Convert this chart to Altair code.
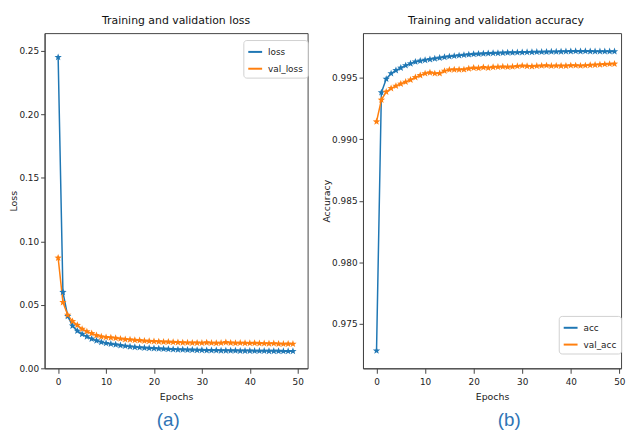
import math
import altair as alt
import pandas as pd

epochs = list(range(50))

loss = [0.245, 0.060, 0.041, 0.0335, 0.0295, 0.027, 0.025, 0.0232, 0.0218, 0.0207,
        0.0198, 0.0192, 0.0187, 0.0181, 0.0176, 0.0171, 0.0167, 0.0164, 0.0161, 0.0159,
        0.0157, 0.0155, 0.0153, 0.0151, 0.0150, 0.0148, 0.0147, 0.0146, 0.0145, 0.0144,
        0.0143, 0.0142, 0.0142, 0.0141, 0.0140, 0.0140, 0.0139, 0.0139, 0.0138, 0.0138,
        0.0138, 0.0137, 0.0137, 0.0137, 0.0136, 0.0136, 0.0136, 0.0135, 0.0135, 0.0135]

val_loss = [0.087, 0.052, 0.042, 0.037, 0.034, 0.031, 0.029, 0.0275, 0.026, 0.025,
            0.0245, 0.0242, 0.0238, 0.0233, 0.0228, 0.0226, 0.0222, 0.0220, 0.0216, 0.0214,
            0.0212, 0.0211, 0.0209, 0.0208, 0.0206, 0.0205, 0.0203, 0.0202, 0.0201, 0.0201,
            0.0200, 0.0203, 0.0200, 0.0199, 0.0200, 0.0204, 0.0201, 0.0199, 0.0200, 0.0199,
            0.0198, 0.0199, 0.0197, 0.0196, 0.0195, 0.0196, 0.0193, 0.0192, 0.0193, 0.0192]

acc = [0.9728, 0.9938, 0.9949, 0.99535, 0.9956, 0.9958, 0.9960, 0.99615, 0.9963, 0.99637,
       0.99644, 0.9965, 0.99656, 0.99662, 0.99668, 0.99673, 0.99677, 0.99681, 0.99685, 0.99689,
       0.99692, 0.99694, 0.99696, 0.99698, 0.99700, 0.99701, 0.99703, 0.99704, 0.99705, 0.99706,
       0.99707, 0.99708, 0.99709, 0.99710, 0.99710, 0.99711, 0.99712, 0.99712, 0.99713, 0.99714,
       0.99715, 0.99716, 0.99715, 0.99716, 0.99715, 0.99714, 0.99714, 0.99714, 0.99714, 0.99714]

val_acc = [0.99143, 0.9932, 0.99385, 0.99414, 0.99433, 0.9945, 0.99466, 0.99483, 0.99503, 0.9952,
           0.99535, 0.99542, 0.99535, 0.99536, 0.99555, 0.99565, 0.99566, 0.99566, 0.99567, 0.99575,
           0.9958, 0.99578, 0.99585, 0.9958, 0.99587, 0.99588, 0.9959, 0.99588, 0.9959, 0.99594,
           0.99598, 0.99595, 0.99593, 0.99596, 0.99598, 0.996, 0.99596, 0.99598, 0.99597, 0.99597,
           0.996, 0.996, 0.99598, 0.996, 0.99603, 0.99605, 0.99607, 0.9961, 0.99612, 0.99613]

loss_ticks = [0.00, 0.05, 0.10, 0.15, 0.20, 0.25]
acc_ticks = [0.975, 0.980, 0.985, 0.990, 0.995]
epoch_ticks = [0, 10, 20, 30, 40, 50]
captions = ["(a)", "(b)"]

COLORS = ["#1f77b4", "#ff7f0e"]
FONT = "DejaVu Sans, sans-serif"


def star_path(n=5, r_out=1.0, r_in=0.42):
    pts = []
    for i in range(2 * n):
        r = r_out if i % 2 == 0 else r_in
        a = math.pi / 2 + i * math.pi / n
        pts.append((r * math.cos(a), -r * math.sin(a)))
    return "M" + "L".join(f"{x:.3f},{y:.3f}" for x, y in pts) + "Z"


STAR = star_path()


def long_df(a, b, names):
    rows = []
    for e, v in zip(epochs, a):
        rows.append({"epoch": e, "value": v, "series": names[0]})
    for e, v in zip(epochs, b):
        rows.append({"epoch": e, "value": v, "series": names[1]})
    return pd.DataFrame(rows)


def panel(df, names, title, ytitle, ydomain, yticks, yfmt, xdomain,
          lx, ly, caption, capx, W, H, title_dx, ytitle_x):
    color = alt.Color(
        "series:N",
        scale=alt.Scale(domain=names, range=COLORS),
        legend=alt.Legend(
            title=None, orient="none", legendX=lx, legendY=ly,
            symbolType="stroke", symbolSize=196, symbolStrokeWidth=2,
            labelFontSize=9, labelFont=FONT, labelColor="#222", padding=4,
            labelOffset=5,
            strokeColor="#d0d0d0", cornerRadius=3, fillColor="white",
            rowPadding=4,
        ),
    )
    lines = alt.Chart(df).mark_line(
        strokeWidth=1.5,
        point=alt.OverlayMarkDef(shape=STAR, size=60, filled=True, opacity=1),
    ).encode(
        x=alt.X("epoch:Q",
                scale=alt.Scale(domain=xdomain, nice=False, zero=False),
                axis=alt.Axis(values=epoch_ticks, title="Epochs", format="d")),
        y=alt.Y("value:Q",
                scale=alt.Scale(domain=ydomain, nice=False, zero=False),
                axis=alt.Axis(values=yticks, title=ytitle, format=yfmt,
                              titleX=ytitle_x)),
        color=color,
        order="epoch:Q",
    )
    cap = alt.Chart(pd.DataFrame({"t": [caption]})).mark_text(
        font="Liberation Sans, Arial, sans-serif", fontSize=19, color="#2E74B5",
        baseline="middle", align="center",
    ).encode(
        x=alt.value(capx), y=alt.value(H + 52), text="t:N"
    )
    return alt.layer(lines, cap).properties(
        width=W, height=H,
        title=alt.TitleParams(title, font=FONT, fontSize=11, fontWeight="normal",
                              color="#111", offset=7, dx=title_dx),
    )


left = panel(long_df(loss, val_loss, ["loss", "val_loss"]), ["loss", "val_loss"],
             "Training and validation loss", "Loss", [0.0, 0.264], loss_ticks, ".2f",
             [-2.83, 52.06], 201, 7, captions[0], 125, 266, 339, 0, -26)
right = panel(long_df(acc, val_acc, ["acc", "val_acc"]), ["acc", "val_acc"],
              "Training and validation accuracy", "Accuracy", [0.97137, 0.99863], acc_ticks, ".3f",
              [-2.79, 50.35], 198, 286, captions[1], 148, 261, 339, 4, -32)

chart = alt.hconcat(left, right, spacing=12).resolve_scale(
    color="independent", x="independent", y="independent"
).resolve_legend(color="independent").properties(
    padding={"left": 0, "top": 4, "right": 0, "bottom": 0}
).configure_view(
    stroke="#444", strokeWidth=1
).configure_axis(
    labelFont=FONT, titleFont=FONT, labelFontSize=9, titleFontSize=9.5,
    titleFontWeight="normal", labelColor="#222", titleColor="#222",
    domainColor="#444", tickColor="#444", grid=False,
).configure_axisY(titlePadding=3, tickSize=4, labelPadding=2).configure_axisX(
    titlePadding=6, tickSize=5, labelPadding=4)

chart.save("out.html", embed_options={"renderer": "svg", "actions": False})
